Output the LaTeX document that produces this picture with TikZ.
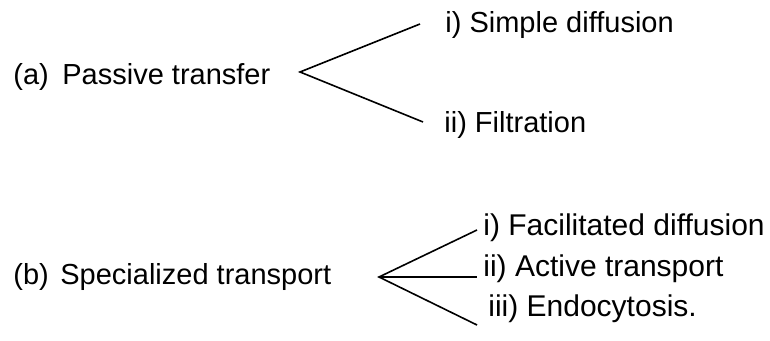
\documentclass[tikz,border=0pt]{standalone}
\usepackage{fontspec}
\setmainfont{Liberation Sans}

\tikzstyle{lbl} = [anchor=base west, inner sep=0pt, font=\fontsize{14.5}{17}\selectfont]
\tikzstyle{sublbl} = [lbl, font=\fontsize{15}{18}\selectfont]
\tikzstyle{line} = [line width=0.8pt]

\begin{document}
\begin{tikzpicture}[x=0.5pt,y=-0.5pt]
\useasboundingbox (0,0) rectangle (770,341);

% (a) passive transfer
\node[lbl] (tagA) at (13,85) {(a)};
\node[lbl] (passive) at (62,85) {Passive transfer};
\node[lbl] (simple) at (445,33) {i) Simple diffusion};
\node[lbl] (filtr) at (444,133) {ii) Filtration};
\coordinate (forkA) at (300,72);
\coordinate (endA1) at (420,24);
\coordinate (endA2) at (423,122);
\draw[line] (endA1) -- (forkA) -- (endA2);

% (b) specialized transport
\node[lbl] (tagB) at (13,285) {(b)};
\node[lbl] (special) at (60,285) {Specialized transport};
\node[sublbl] (facil) at (483,236) {i) Facilitated diffusion};
\node[sublbl] (active) at (483,277) {ii) Active transport};
\node[sublbl] (endo) at (488,317) {iii) Endocytosis.};
\coordinate (forkB) at (379,277);
\coordinate (endB1) at (477,230);
\coordinate (endB2) at (477,277);
\coordinate (endB3) at (477,325);
\draw[line] (endB1) -- (forkB) -- (endB3);
\draw[line] (forkB) -- (endB2);

\end{tikzpicture}
\end{document}
